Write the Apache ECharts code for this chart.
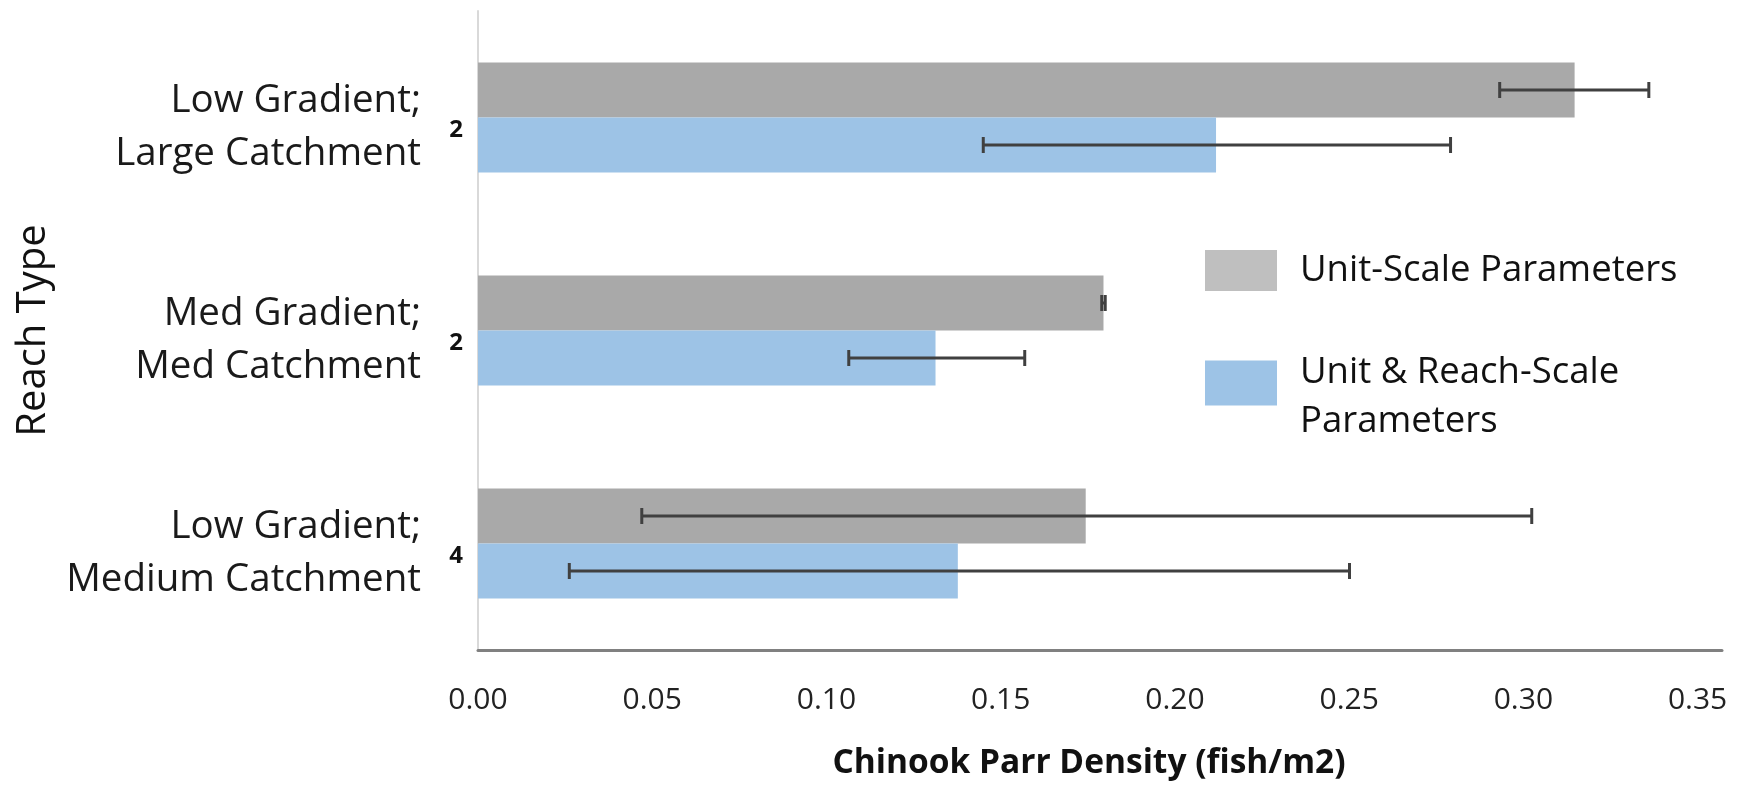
<!DOCTYPE html>
<html>
<head>
<meta charset="utf-8">
<script src="https://cdn.jsdelivr.net/npm/echarts@6/dist/echarts.min.js"></script>
<style>
html,body{margin:0;padding:0;background:#fff;}
#chart{width:1739px;height:785px;}
</style>
</head>
<body>
<div id="chart"></div>
<script>
// ---- data ----
const categories = ['Low Gradient;\nLarge Catchment', 'Med Gradient;\nMed Catchment', 'Low Gradient;\nMedium Catchment'];
const sampleCounts = ['2', '2', '4'];
const seriesNames = ['Unit-Scale Parameters', 'Unit & Reach-Scale Parameters'];
const unitScale = [0.3147, 0.1795, 0.1744];
const unitScaleLow = [0.2932, 0.1790, 0.0470];
const unitScaleHigh = [0.3360, 0.1800, 0.3024];
const unitReach = [0.2118, 0.1313, 0.1377];
const unitReachLow = [0.1450, 0.1064, 0.0262];
const unitReachHigh = [0.2791, 0.1569, 0.2501];
const xMin = 0, xMax = 0.357, xStep = 0.05;

const FONT = '"Open Sans", "Noto Sans", sans-serif';
const BAR_W = 55;

function errData(lo, hi) { return lo.map((v, i) => [v, hi[i], i]); }
function errRender(sign) {
  return function (params, api) {
    const i = api.value(2);
    const p1 = api.coord([api.value(0), i]);
    const p2 = api.coord([api.value(1), i]);
    const y = p1[1] + sign * BAR_W / 2;
    const h = 8;
    const st = { stroke: '#404040', lineWidth: 3 };
    return {
      type: 'group',
      children: [
        { type: 'line', shape: { x1: p1[0], y1: y, x2: p2[0], y2: y }, style: st },
        { type: 'line', shape: { x1: p1[0], y1: y - h, x2: p1[0], y2: y + h }, style: st },
        { type: 'line', shape: { x1: p2[0], y1: y - h, x2: p2[0], y2: y + h }, style: st }
      ]
    };
  };
}

const legendText = { fontFamily: FONT, fontSize: 36.5, lineHeight: 49, color: '#111' };

const chart = echarts.init(document.getElementById('chart'), null, { renderer: 'canvas' });
chart.setOption({
  backgroundColor: '#ffffff',
  animation: false,
  textStyle: { fontFamily: FONT },
  grid: { left: 478, right: 17, top: 11, bottom: 133, containLabel: false },
  legend: [
    {
      orient: 'vertical', left: 1200, top: 241,
      itemWidth: 72, itemHeight: 41, selectedMode: false, icon: 'rect',
      data: [{ name: seriesNames[0], itemStyle: { color: '#bfbfbf' } }],
      textStyle: Object.assign({}, legendText, { padding: [0, 0, 0, 18] })
    },
    {
      orient: 'vertical', left: 1200, top: 315,
      itemWidth: 72, itemHeight: 45, selectedMode: false, icon: 'rect',
      data: [{ name: seriesNames[1], itemStyle: { color: '#9dc3e6' } }],
      formatter: () => '{s| }\n{b|Unit & Reach-Scale}\n{b|Parameters}',
      textStyle: Object.assign({}, legendText, {
        padding: [0, 0, 0, 18],
        rich: {
          s: { fontSize: 2, lineHeight: 28 },
          b: { fontFamily: FONT, fontSize: 36.5, lineHeight: 49, color: '#111' }
        }
      })
    }
  ],
  xAxis: {
    type: 'value',
    min: xMin,
    max: xMax,
    interval: xStep,
    axisLine: { show: true, lineStyle: { color: '#808080', width: 3 } },
    axisTick: { show: false },
    splitLine: { show: false },
    axisLabel: {
      fontFamily: FONT, fontSize: 30, color: '#222', margin: 35, showMaxLabel: false,
      formatter: v => Math.abs(v / xStep - Math.round(v / xStep)) < 1e-6 ? v.toFixed(2) : ''
    },
    name: 'Chinook Parr Density (fish/m2)',
    nameLocation: 'middle',
    nameGap: 96,
    nameTextStyle: { fontFamily: FONT, fontSize: 33.5, fontWeight: 'bold', color: '#111', padding: [0, 22, 0, 0] }
  },
  yAxis: [
    {
      type: 'category',
      inverse: true,
      data: categories,
      axisLine: { show: true, lineStyle: { color: '#d9d9d9', width: 2 } },
      axisTick: { show: false },
      axisLabel: {
        margin: 57, align: 'right',
        formatter: v => '{s| }\n' + v.split('\n').map(l => '{a|' + l + '}').join('\n'),
        rich: {
          s: { fontSize: 2, lineHeight: 20, align: 'right' },
          a: { fontFamily: FONT, fontSize: 38.5, lineHeight: 53, color: '#1a1a1a', align: 'right' }
        }
      },
      name: 'Reach Type',
      nameLocation: 'middle',
      nameRotate: 90,
      nameGap: 424,
      nameTextStyle: { fontFamily: FONT, fontSize: 40, color: '#111' }
    },
    {
      type: 'category',
      inverse: true,
      position: 'left',
      data: categories,
      axisLine: { show: false },
      axisTick: { show: false },
      axisLabel: {
        margin: 15,
        formatter: (v, i) => '{s| }\n{n|' + sampleCounts[i] + '}',
        rich: {
          s: { fontSize: 2, lineHeight: 26 },
          n: { fontFamily: FONT, fontSize: 24, fontWeight: 'bold', color: '#111', lineHeight: 30 }
        }
      }
    }
  ],
  series: [
    { name: seriesNames[0], type: 'bar', data: unitScale, barWidth: BAR_W, barGap: '0%', itemStyle: { color: '#a9a9a9' } },
    { name: seriesNames[1], type: 'bar', data: unitReach, barWidth: BAR_W, barGap: '0%', itemStyle: { color: '#9dc3e6' } },
    { type: 'custom', renderItem: errRender(-1), data: errData(unitScaleLow, unitScaleHigh), encode: { x: [0, 1], y: 2 }, z: 5, silent: true },
    { type: 'custom', renderItem: errRender(1), data: errData(unitReachLow, unitReachHigh), encode: { x: [0, 1], y: 2 }, z: 5, silent: true }
  ]
});
</script>
</body>
</html>
